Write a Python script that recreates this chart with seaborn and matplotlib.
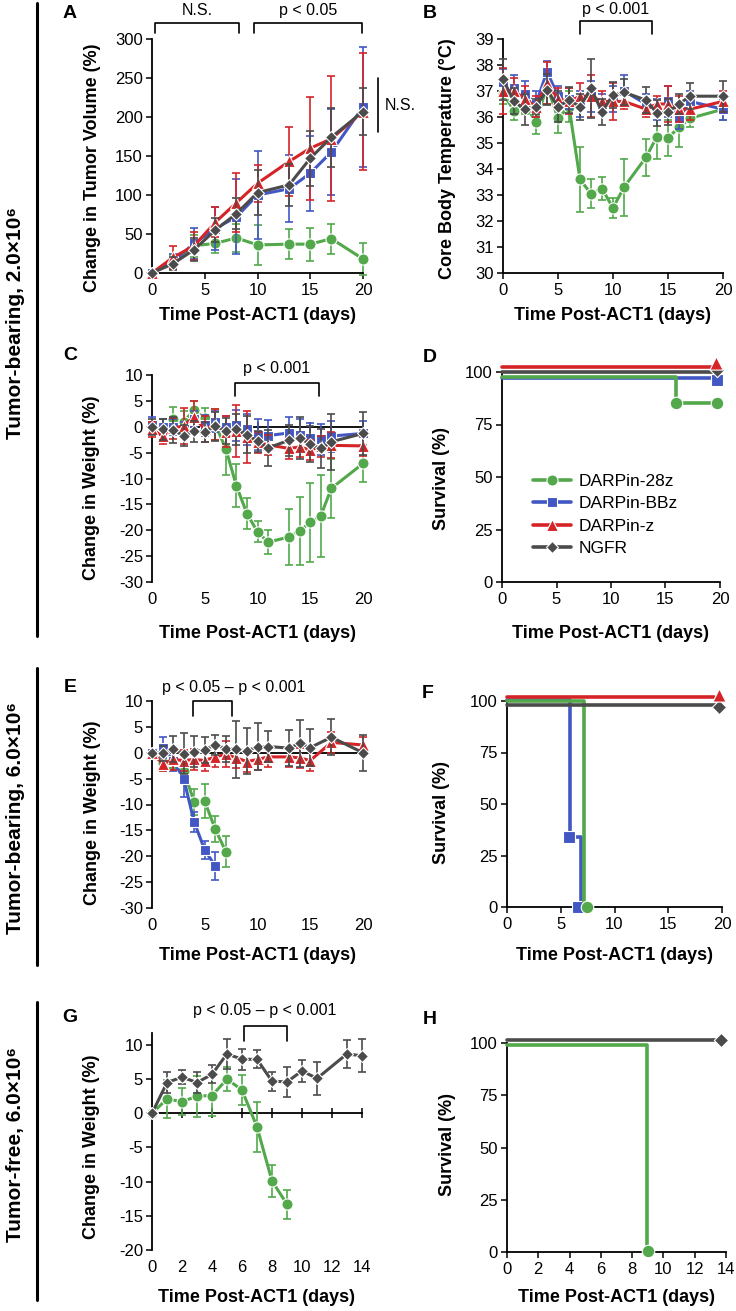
import numpy as np
import pandas as pd
import matplotlib
matplotlib.use("Agg")
import matplotlib.pyplot as plt
import seaborn as sns
from matplotlib.lines import Line2D

# ---------------- Data ----------------
groups = ["DARPin-28z", "DARPin-BBz", "DARPin-z", "NGFR"]

# Panel A: change in tumor volume (%)
days_A = [0, 2, 4, 6, 8, 10, 13, 15, 17, 20]
a_28z = [0, 15, 35, 38, 45, 36, 37, 37, 44, 18]
a_28z_err = [0, 8, 14, 12, 18, 26, 19, 21, 19, 20]
a_BBz = [0, 15, 38, 57, 72, 100, 108, 128, 155, 213]
a_BBz_err = [0, 10, 20, 28, 48, 57, 43, 48, 55, 77]
a_z = [0, 20, 35, 65, 90, 115, 143, 160, 172, 207]
a_z_err = [0, 15, 18, 19, 38, 24, 44, 66, 80, 75]
a_NGFR = [0, 12, 30, 55, 76, 103, 113, 147, 174, 207]
a_NGFR_err = [0, 8, 15, 15, 20, 29, 27, 35, 38, 30]

# Panel B: core body temperature (°C)
days_B = [0, 1, 2, 3, 4, 5, 6, 7, 8, 9, 10, 11, 13, 14, 15, 16, 17, 20]
b_28z = [36.9, 36.25, 36.5, 35.8, 37.2, 35.95, 36.4, 33.6, 33.05, 33.25, 32.5, 33.3, 34.45, 35.25, 35.2, 35.6, 35.95, 36.3]
b_28z_err = [0.4, 0.35, 0.4, 0.45, 0.7, 0.55, 0.6, 1.25, 0.55, 0.45, 0.38, 1.1, 0.7, 0.85, 0.7, 0.75, 0.35, 0.4]
b_BBz = [37.35, 37.1, 36.9, 36.5, 37.75, 36.8, 36.7, 36.5, 36.8, 36.5, 36.7, 37.0, 36.5, 36.3, 36.6, 35.95, 36.6, 36.3]
b_BBz_err = [0.5, 0.5, 0.5, 0.5, 0.4, 0.4, 0.4, 0.5, 0.6, 0.4, 0.5, 0.6, 0.4, 0.4, 0.6, 0.4, 0.4, 0.4]
b_z = [37.0, 37.0, 36.7, 36.4, 37.3, 36.7, 36.6, 36.8, 36.8, 36.6, 36.6, 36.6, 36.3, 36.5, 36.5, 36.3, 36.3, 36.6]
b_z_err = [0.9, 0.5, 0.5, 0.4, 0.8, 0.4, 0.5, 0.5, 0.8, 0.4, 0.7, 0.3, 0.3, 0.3, 0.7, 0.5, 0.4, 0.4]
b_NGFR = [37.45, 36.6, 36.3, 36.4, 37.05, 36.4, 36.65, 36.4, 37.1, 36.2, 36.85, 36.95, 36.65, 36.15, 36.2, 36.5, 36.8, 36.8]
b_NGFR_err = [0.8, 0.5, 0.6, 0.3, 0.6, 0.6, 0.5, 0.5, 1.15, 0.5, 0.5, 0.5, 0.5, 0.5, 0.5, 0.4, 0.5, 0.6]

# Panel C: change in weight (%), tumor-bearing 2.0e6
days_C = [0, 1, 2, 3, 4, 5, 6, 7, 8, 9, 10, 11, 13, 14, 15, 16, 17, 20]
c_28z = [0, -0.5, 1.5, 1.0, 3.2, 1.6, 0.5, -4.3, -11.4, -16.8, -20.3, -22.3, -21.3, -20.1, -18.5, -17.2, -11.9, -7.1]
c_28z_err = [0, 2, 2.3, 2, 1.8, 2, 3, 5, 4.2, 3, 2, 2.3, 5.4, 6.6, 7.7, 7.9, 5.7, 3.6]
c_BBz = [0.4, 0, 0, -0.5, 1.5, 0.3, 1.0, 0, 0.3, -0.5, -1.5, -1.7, -1.2, -1.5, -2.2, -2.4, -1.8, -1.3]
c_BBz_err = [1.5, 1.5, 1.5, 1.5, 1.5, 2, 2, 2, 3, 3, 3, 3, 3, 3, 3, 3, 3, 2.5]
c_z = [-0.5, -1.8, -0.3, 0.2, 1.9, -0.5, 0.5, -1.0, -0.8, -2.0, -3.0, -3.5, -4.2, -3.9, -4.5, -3.8, -3.6, -3.7]
c_z_err = [1.5, 1.5, 2, 3.5, 3, 2.5, 3, 3, 5, 5, 2, 2, 2, 2, 2, 2, 2.5, 2]
c_NGFR = [0, -0.5, -0.7, -1.7, -0.9, -1.0, 0.1, -0.8, -0.5, -1.5, -2.8, -4.1, -2.6, -2.2, -3.4, -4.2, -2.9, -1.3]
c_NGFR_err = [1.5, 2, 2.5, 2, 2, 2, 2.8, 2.5, 3, 3.5, 2, 3.4, 3, 4, 3.5, 3.8, 5.4, 4.2]

# Panel D: survival (%), tumor-bearing 2.0e6
d_t_28z, d_s_28z = [0, 16, 19.7], [97.5, 85.2, 85.2]
d_mt_28z, d_ms_28z = [16, 19.7], [85.2, 85.2]
d_t_BBz, d_s_BBz = [0, 19.7], [97, 97]
d_mt_BBz, d_ms_BBz = [19.7], [96]
d_t_z, d_s_z = [0, 19.4], [102.3, 102.3]
d_mt_z, d_ms_z = [19.6], [104.5]
d_t_NGFR, d_s_NGFR = [0, 19.6], [100, 100]
d_mt_NGFR, d_ms_NGFR = [19.7], [100.8]

# Panel E: change in weight (%), tumor-bearing 6.0e6
days_E_28z = [0, 1, 2, 3, 4, 5, 6, 7]
e_28z = [0, -2.0, -2.5, -3.5, -9.5, -9.4, -14.8, -19.1]
e_28z_err = [0, 1.5, 1, 1.5, 2.5, 3.3, 2.5, 3]
days_E_BBz = [0, 1, 2, 3, 4, 5, 6]
e_BBz = [0, 1.0, -1.5, -5.0, -13.4, -18.8, -21.9]
e_BBz_err = [0, 2, 2, 3.5, 2, 1.8, 2.7]
days_E = [0, 1, 2, 3, 4, 5, 6, 7, 8, 9, 10, 11, 13, 14, 15, 17, 20]
e_z = [0, -2.1, -1.3, -1.5, -1.3, -1.5, -0.8, -0.3, -1.0, -1.7, -1.3, -0.8, -0.8, -1.0, -1.5, 2.0, 1.5]
e_z_err = [0, 1.5, 2, 2, 2, 2, 2, 2.5, 2, 2, 2, 2, 2, 2, 2, 2, 1.5]
e_NGFR = [0, -0.1, 0.7, -0.2, 0.2, 0.6, 1.5, 0.8, 0.7, 0.3, 1.2, 1.2, 0.9, 1.8, 1.0, 3.0, 0]
e_NGFR_err = [0, 1.5, 2.5, 4, 3, 2.5, 2, 2.5, 5.5, 4.5, 4.5, 3, 3.5, 4.5, 3.5, 3.5, 3.5]

# Panel F: survival (%), tumor-bearing 6.0e6
f_t_28z, f_s_28z = [0, 7.15], [100, 0]
f_mt_28z, f_ms_28z = [7.45], [0]
f_t_BBz, f_s_BBz = [0, 5.9, 6.85], [100.5, 34, 0]
f_mt_BBz, f_ms_BBz = [5.8, 6.6], [34, 0]
f_t_z, f_s_z = [0, 19.3], [102.1, 102.1]
f_mt_z, f_ms_z = [19.7], [102.8]
f_t_NGFR, f_s_NGFR = [0, 19.5], [98, 98]
f_mt_NGFR, f_ms_NGFR = [19.7], [97.3]

# Panel G: change in weight (%), tumor-free 6.0e6
days_G = [0, 1, 2, 3, 4, 5, 6, 7, 8, 9, 10, 11, 13, 14]
g_NGFR = [0, 4.5, 5.3, 4.5, 5.7, 8.7, 7.9, 7.9, 4.7, 4.6, 6.2, 5.1, 8.7, 8.4]
g_NGFR_err = [0, 1.5, 1, 1.5, 1.3, 2.2, 1.5, 1.3, 1.4, 2.2, 1.6, 2.4, 2, 2.4]
days_G_28z = [0, 1, 2, 3, 4, 5, 6, 7, 8, 9]
g_28z = [0, 2.1, 1.7, 2.5, 2.6, 5.0, 3.4, -2.0, -9.9, -13.3]
g_28z_err = [0, 2.8, 2, 3, 3, 1.8, 2.2, 3.6, 2.4, 2.1]

# Panel H: survival (%), tumor-free 6.0e6
h_t_28z, h_s_28z = [0, 8.97], [99.2, 0]
h_mt_28z, h_ms_28z = [9.0], [0.5]
h_t_NGFR, h_s_NGFR = [0, 13.5], [101.3, 101.3]
h_mt_NGFR, h_ms_NGFR = [13.7], [101.5]

# ---------------- Style ----------------
sns.set_theme(style="white")
plt.rcParams['font.family'] = ['Liberation Sans', 'DejaVu Sans']
plt.rcParams['axes.unicode_minus'] = False
plt.rcParams['text.color'] = 'black'
plt.rcParams['axes.labelcolor'] = 'black'

COLORS = {"DARPin-28z": "#52A84A", "DARPin-BBz": "#4257C3", "DARPin-z": "#D52428", "NGFR": "#4B4B4B"}
MARKERS = {"DARPin-28z": "o", "DARPin-BBz": "s", "DARPin-z": "^", "NGFR": "D"}
MSIZE = {"o": 8, "s": 7.5, "^": 8.5, "D": 6.3}
TICK_FS = 12
LABEL_FS = 13
ANNOT_FS = 11.5

W, H = 736, 1311
fig = plt.figure(figsize=(W / 100, H / 100), dpi=100)


def add_ax(l, t, r, b):
    ax = fig.add_axes([l / W, 1 - b / H, (r - l) / W, (b - t) / H])
    ax.set_facecolor('none')
    return ax, (l, t, r, b)


def series_df(days, vals, errs, group):
    return pd.DataFrame({"day": days, "value": vals, "err": errs, "group": group})


def plot_series(ax, frames):
    for i, df in enumerate(frames):
        g = df["group"].iloc[0]
        c = COLORS[g]
        ax.errorbar(df["day"], df["value"], yerr=df["err"], fmt='none', ecolor=c,
                    elinewidth=1.2, capsize=3, capthick=1.2, zorder=2 + 2 * i, clip_on=False)
        m = MARKERS[g]
        sns.lineplot(data=df, x="day", y="value", color=c, marker=m, markersize=MSIZE[m],
                     markeredgecolor='white', markeredgewidth=0.8, linewidth=2.2,
                     estimator=None, errorbar=None, sort=False, ax=ax, zorder=3 + 2 * i,
                     clip_on=False)


def plot_surv(ax, curves):
    for i, (g, t, s, mt, ms) in enumerate(curves):
        c = COLORS[g]
        sns.lineplot(data=pd.DataFrame({"t": t, "s": s}), x="t", y="s", color=c,
                     linewidth=2.6, drawstyle="steps-post", estimator=None, errorbar=None,
                     sort=False, ax=ax, zorder=3 + 2 * i, clip_on=False)
        m = MARKERS[g]
        sns.scatterplot(data=pd.DataFrame({"t": mt, "s": ms}), x="t", y="s", color=c,
                        marker=m, s=(MSIZE[m] + 1) ** 2, edgecolor='white', linewidth=0.8,
                        ax=ax, zorder=4 + 2 * i, clip_on=False)


def setup(ax, box, xlim, ylim, xticks, yticks, xlabel, ylabel, xl_y, yl_x, yl_y, zero_axis=False):
    l, t, r, b = box
    sns.despine(ax=ax)
    ax.set_xlim(*xlim)
    ax.set_ylim(*ylim)
    ax.set_xticks(xticks)
    ax.set_yticks(yticks)
    ax.spines['left'].set_linewidth(1.3)
    ax.spines['left'].set_color('black')
    ax.tick_params(axis='y', direction='out', length=4.5, width=1.1, pad=2, labelsize=TICK_FS,
                   colors='black', left=True)
    if zero_axis:
        ax.spines['bottom'].set_visible(False)
        ax.tick_params(axis='x', length=0, pad=7.5, labelsize=TICK_FS, colors='black', bottom=True)
        sec = ax.secondary_xaxis(0, transform=ax.transData)
        sec.set_xticks(xticks)
        sec.tick_params(axis='x', direction='inout', length=7, width=1.1, labelbottom=False,
                        colors='black', bottom=True)
        sec.spines['bottom'].set_linewidth(1.3)
        sec.spines['bottom'].set_color('black')
    else:
        ax.spines['bottom'].set_linewidth(1.3)
        ax.spines['bottom'].set_color('black')
        ax.tick_params(axis='x', direction='out', length=4.5, width=1.1, pad=2.5, labelsize=TICK_FS,
                       colors='black', bottom=True)
    ax.set_xlabel(xlabel, fontsize=LABEL_FS, fontweight='bold', va='center')
    ax.xaxis.set_label_coords(0.5, (b - xl_y) / (b - t))
    ax.set_ylabel(ylabel, fontsize=LABEL_FS, fontweight='bold', va='center')
    ax.yaxis.set_label_coords((yl_x - l) / (r - l), (b - yl_y) / (b - t))


def bracket(ax, x0, x1, ytop, ybot, text, xt, yt):
    ax.plot([x0, x0, x1, x1], [ybot, ytop, ytop, ybot], color='black', lw=1.2, clip_on=False)
    ax.text(xt, yt, text, ha='center', va='center', fontsize=ANNOT_FS, clip_on=False)


XL = "Time Post-ACT1 (days)"

# ---- Panel A ----
axA, boxA = add_ax(152, 39, 363, 273)
plot_series(axA, [series_df(days_A, a_28z, a_28z_err, groups[0]),
                  series_df(days_A, a_BBz, a_BBz_err, groups[1]),
                  series_df(days_A, a_z, a_z_err, groups[2]),
                  series_df(days_A, a_NGFR, a_NGFR_err, groups[3])])
setup(axA, boxA, (0, 20), (0, 300), range(0, 21, 5), range(0, 301, 50), XL,
      "Change in Tumor Volume (%)", 316, 93, 168)
bracket(axA, 0.25, 8.27, 320.5, 307.7, "N.S.", 4.26, 336)
bracket(axA, 9.67, 19.9, 320.5, 307.7, "p < 0.05", 14.8, 336)
axA.plot([21.4, 21.4], [181, 250], color='black', lw=1.2, clip_on=False)
axA.text(22.1, 215, "N.S.", ha='left', va='center', fontsize=ANNOT_FS, clip_on=False)

# ---- Panel B ----
axB, boxB = add_ax(503, 39, 723, 273)
plot_series(axB, [series_df(days_B, b_28z, b_28z_err, groups[0]),
                  series_df(days_B, b_BBz, b_BBz_err, groups[1]),
                  series_df(days_B, b_z, b_z_err, groups[2]),
                  series_df(days_B, b_NGFR, b_NGFR_err, groups[3])])
setup(axB, boxB, (0, 20), (30, 39), range(0, 21, 5), range(30, 40), XL,
      "Core Body Temperature (°C)", 316, 447, 159)
bracket(axB, 7.0, 13.5, 39.7, 39.18, "p < 0.001", 10.25, 40.12)

# ---- Panel C ----
axC, boxC = add_ax(152, 375, 363, 582)
plot_series(axC, [series_df(days_C, c_28z, c_28z_err, groups[0]),
                  series_df(days_C, c_BBz, c_BBz_err, groups[1]),
                  series_df(days_C, c_z, c_z_err, groups[2]),
                  series_df(days_C, c_NGFR, c_NGFR_err, groups[3])])
setup(axC, boxC, (0, 20), (-30, 10), range(0, 21, 5), range(-30, 11, 5), XL,
      "Change in Weight (%)", 633, 92, 488, zero_axis=True)
bracket(axC, 7.9, 15.8, 8.4, 5.9, "p < 0.001", 11.8, 11.2)

# ---- Panel D ----
axD, boxD = add_ax(502, 372, 720, 582)
plot_surv(axD, [(groups[1], d_t_BBz, d_s_BBz, d_mt_BBz, d_ms_BBz),
                (groups[0], d_t_28z, d_s_28z, d_mt_28z, d_ms_28z),
                (groups[3], d_t_NGFR, d_s_NGFR, d_mt_NGFR, d_ms_NGFR),
                (groups[2], d_t_z, d_s_z, d_mt_z, d_ms_z)])
setup(axD, boxD, (0, 20), (0, 100), range(0, 21, 5), range(0, 101, 25), XL,
      "Survival (%)", 633, 442, 479)
handles = [Line2D([0], [0], color=COLORS[g], marker=MARKERS[g], markersize=MSIZE[MARKERS[g]],
                  markeredgecolor='white', markeredgewidth=0.8, lw=2.6) for g in groups]
axD.legend(handles, groups, frameon=False, loc='upper left', bbox_to_anchor=(0.14, 0.515),
           borderaxespad=0, borderpad=0, handlelength=2.2, handletextpad=0.45,
           labelspacing=0.42, fontsize=12.5)

# ---- Panel E ----
axE, boxE = add_ax(152, 701, 363, 908)
plot_series(axE, [series_df(days_E_28z, e_28z, e_28z_err, groups[0]),
                  series_df(days_E_BBz, e_BBz, e_BBz_err, groups[1]),
                  series_df(days_E, e_z, e_z_err, groups[2]),
                  series_df(days_E, e_NGFR, e_NGFR_err, groups[3])])
setup(axE, boxE, (0, 20), (-30, 10), range(0, 21, 5), range(-30, 11, 5), XL,
      "Change in Weight (%)", 955, 93, 813, zero_axis=True)
bracket(axE, 3.9, 7.55, 10, 7.1, "p < 0.05 \u2013 p < 0.001", 7.7, 12.7)

# ---- Panel F ----
axF, boxF = add_ax(507, 701, 722, 907)
plot_surv(axF, [(groups[1], f_t_BBz, f_s_BBz, f_mt_BBz, f_ms_BBz),
                (groups[0], f_t_28z, f_s_28z, f_mt_28z, f_ms_28z),
                (groups[3], f_t_NGFR, f_s_NGFR, f_mt_NGFR, f_ms_NGFR),
                (groups[2], f_t_z, f_s_z, f_mt_z, f_ms_z)])
setup(axF, boxF, (0, 20), (0, 100), range(0, 21, 5), range(0, 101, 25), XL,
      "Survival (%)", 955, 442, 812)

# ---- Panel G ----
axG, boxG = add_ax(152, 1033, 362, 1250)
plot_series(axG, [series_df(days_G_28z, g_28z, g_28z_err, groups[0]),
                  series_df(days_G, g_NGFR, g_NGFR_err, groups[3])])
setup(axG, boxG, (0, 14), (-20, 11.75), range(0, 15, 2), range(-20, 11, 5), XL,
      "Change in Weight (%)", 1297, 92, 1147, zero_axis=True)
bracket(axG, 6.15, 9.03, 12.8, 10.6, "p < 0.05 \u2013 p < 0.001", 7.53, 15.0)

# ---- Panel H ----
axH, boxH = add_ax(507, 1043, 726, 1252)
plot_surv(axH, [(groups[0], h_t_28z, h_s_28z, h_mt_28z, h_ms_28z),
                (groups[3], h_t_NGFR, h_s_NGFR, h_mt_NGFR, h_ms_NGFR)])
setup(axH, boxH, (0, 14), (0, 100), range(0, 15, 2), range(0, 101, 25), XL,
      "Survival (%)", 1298, 447, 1145)

# ---- Panel letters ----
for letter, (x, y) in {"A": (70, 13), "B": (430, 13), "C": (70, 355), "D": (430, 357),
                       "E": (70, 688), "F": (428, 693), "G": (70, 1017), "H": (430, 1020)}.items():
    fig.text(x / W, 1 - y / H, letter, ha='center', va='center', fontsize=14, fontweight='bold')

# ---- Group labels and separators ----
for text, yc, (y0, y1) in [("Tumor-bearing, 2.0\u00d710\u2076", 323, (3, 636)),
                           ("Tumor-bearing, 6.0\u00d710\u2076", 818, (668, 965)),
                           ("Tumor-free, 6.0\u00d710\u2076", 1145, (1002, 1300))]:
    fig.text(16 / W, 1 - yc / H, text, rotation=90, ha='center', va='center',
             fontsize=15, fontweight='bold')
    fig.add_artist(Line2D([37 / W, 37 / W], [1 - y0 / H, 1 - y1 / H], transform=fig.transFigure,
                          color='black', lw=2.2))

fig.savefig("out.png", dpi=100)
